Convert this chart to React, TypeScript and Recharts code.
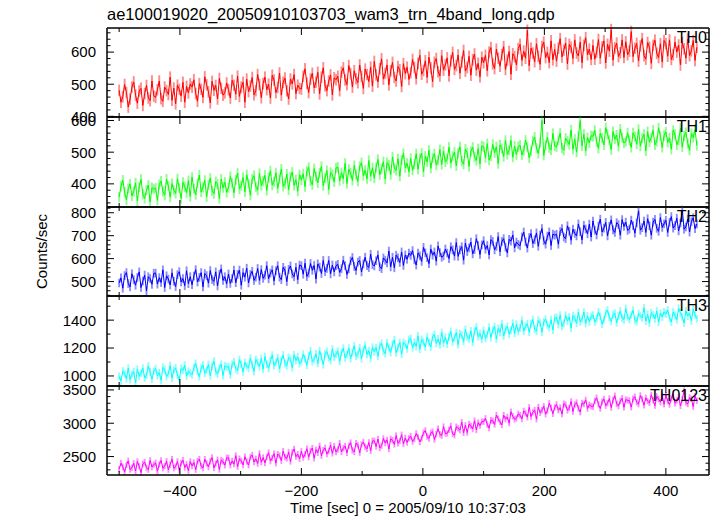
import React from 'react';
import { LineChart, Line, XAxis, YAxis, ErrorBar } from 'recharts';

// Light curve bins: 3 s each, starting at -500 s
const T_START = -500;
const T_STEP = 3;

// Counts/sec per band (rows of 60 s)
const TH0 = [
  481, 444, 461, 499, 474, 429, 454, 491, 507, 466, 441, 479, 487, 434, 471, 496, 457, 449, 510, 463,
  459, 483, 510, 455, 447, 491, 480, 468, 522, 450, 488, 439, 497, 484, 463, 506, 444, 493, 473, 501,
  491, 514, 471, 447, 502, 484, 459, 523, 498, 476, 442, 509, 481, 496, 454, 518, 487, 466, 473, 504,
  483, 457, 512, 497, 469, 525, 462, 491, 506, 444, 516, 477, 494, 521, 467, 480, 530, 499, 458, 502,
  522, 483, 500, 457, 528, 513, 474, 490, 535, 466, 506, 519, 480, 454, 516, 501, 530, 471, 497, 487,
  485, 525, 548, 503, 474, 516, 534, 489, 506, 537, 470, 522, 551, 495, 480, 510, 529, 467, 520, 514,
  525, 480, 538, 551, 513, 499, 558, 533, 491, 542, 517, 505, 560, 524, 487, 547, 530, 508, 553, 494,
  571, 529, 507, 548, 579, 516, 534, 560, 498, 542, 568, 521, 510, 555, 545, 493, 564, 533, 553, 515,
  536, 577, 552, 517, 565, 590, 531, 543, 573, 521, 584, 551, 508, 568, 580, 539, 526, 589, 544, 560,
  582, 526, 573, 599, 546, 558, 591, 534, 569, 605, 541, 552, 587, 528, 576, 594, 544, 565, 523, 584,
  567, 590, 542, 600, 614, 563, 549, 609, 581, 556, 592, 617, 546, 575, 602, 531, 595, 586, 560, 611,
  624, 574, 603, 581, 668, 558, 612, 597, 570, 626, 587, 562, 617, 631, 583, 599, 567, 635, 576, 608,
  572, 612, 642, 585, 606, 628, 563, 624, 615, 580, 638, 597, 588, 631, 567, 621, 645, 592, 609, 577,
  621, 578, 600, 639, 581, 616, 635, 566, 624, 603, 670, 575, 613, 628, 586, 598, 638, 583, 632, 592,
  603, 664, 586, 612, 627, 572, 619, 642, 589, 578, 630, 615, 565, 621, 637, 596, 583, 626, 569, 636,
  626, 587, 638, 577, 592, 631, 600, 622, 560, 629, 610, 581, 641, 589, 604, 636, 574, 615,
];

const TH1 = [
  358, 392, 412, 374, 349, 385, 400, 362, 376, 403, 346, 390, 414, 367, 354, 380, 396, 343, 388, 383,
  387, 348, 398, 409, 376, 364, 415, 393, 358, 401, 380, 370, 416, 386, 354, 405, 391, 372, 410, 360,
  421, 385, 366, 401, 428, 374, 389, 411, 359, 396, 418, 378, 369, 407, 399, 354, 415, 388, 405, 373,
  388, 423, 402, 372, 413, 434, 384, 394, 420, 375, 429, 401, 364, 415, 426, 391, 380, 433, 395, 409,
  427, 379, 419, 441, 396, 407, 435, 386, 416, 447, 392, 401, 431, 381, 422, 437, 395, 413, 377, 429,
  412, 432, 391, 440, 452, 409, 397, 448, 424, 403, 434, 455, 394, 419, 442, 382, 436, 429, 406, 450,
  453, 410, 435, 416, 465, 401, 446, 434, 411, 458, 429, 408, 455, 467, 426, 443, 416, 474, 424, 451,
  418, 452, 477, 429, 447, 470, 415, 467, 459, 429, 485, 450, 442, 479, 424, 475, 496, 451, 465, 438,
  480, 443, 462, 495, 446, 480, 497, 438, 487, 469, 506, 449, 482, 495, 459, 474, 508, 461, 503, 469,
  479, 516, 465, 487, 500, 457, 497, 517, 472, 462, 510, 498, 455, 503, 516, 485, 474, 511, 463, 520,
  517, 483, 527, 475, 488, 525, 498, 517, 464, 523, 511, 486, 537, 493, 506, 537, 484, 519, 492, 517,
  522, 491, 505, 538, 516, 482, 503, 535, 548, 513, 496, 529, 600, 490, 522, 547, 514, 507, 559, 519,
  517, 537, 560, 513, 506, 544, 535, 524, 570, 509, 541, 500, 549, 600, 520, 557, 504, 546, 529, 552,
  550, 569, 533, 512, 559, 544, 523, 577, 556, 537, 508, 565, 541, 554, 518, 573, 546, 529, 534, 561,
  537, 515, 561, 549, 525, 572, 519, 544, 556, 504, 565, 532, 546, 569, 523, 534, 577, 550, 515, 553,
  564, 531, 545, 509, 569, 556, 523, 537, 575, 516, 551, 562, 528, 506, 559, 546, 571, 521,
];

const TH2 = [
  494, 516, 471, 526, 539, 491, 477, 534, 508, 484, 518, 542, 474, 502, 528, 460, 521, 513, 488, 536,
  537, 489, 517, 496, 551, 474, 525, 511, 485, 538, 501, 478, 530, 543, 498, 513, 482, 547, 491, 521,
  486, 524, 552, 498, 518, 539, 477, 535, 526, 493, 548, 509, 501, 542, 481, 532, 555, 505, 521, 490,
  533, 492, 513, 550, 495, 531, 550, 484, 539, 519, 558, 494, 531, 545, 505, 519, 557, 505, 552, 514,
  528, 569, 512, 537, 551, 503, 547, 569, 519, 508, 562, 548, 500, 553, 568, 533, 521, 562, 508, 572,
  569, 532, 580, 522, 537, 579, 549, 570, 511, 577, 563, 535, 592, 543, 557, 592, 533, 572, 542, 569,
  575, 540, 556, 593, 569, 531, 555, 590, 605, 566, 548, 585, 592, 542, 577, 606, 569, 561, 619, 574,
  568, 591, 616, 564, 556, 603, 593, 581, 633, 564, 606, 560, 615, 603, 583, 629, 570, 616, 597, 624,
  614, 635, 595, 572, 624, 612, 588, 649, 625, 604, 578, 642, 615, 629, 589, 655, 626, 606, 612, 642,
  624, 600, 652, 638, 611, 670, 610, 638, 652, 593, 668, 631, 647, 672, 621, 639, 687, 657, 618, 660,
  678, 641, 657, 616, 683, 675, 638, 653, 696, 630, 675, 687, 650, 625, 684, 676, 703, 647, 672, 662,
  656, 694, 716, 673, 646, 692, 709, 666, 682, 712, 654, 703, 731, 678, 663, 698, 716, 657, 707, 702,
  706, 663, 718, 731, 694, 687, 743, 719, 680, 728, 710, 699, 751, 717, 682, 745, 729, 708, 750, 694,
  764, 724, 703, 742, 772, 716, 733, 758, 699, 741, 769, 725, 714, 757, 748, 702, 770, 740, 759, 723,
  729, 768, 744, 711, 756, 808, 724, 735, 764, 714, 774, 743, 702, 759, 771, 732, 719, 779, 736, 752,
  767, 714, 758, 783, 733, 744, 776, 721, 755, 812, 728, 738, 772, 716, 761, 778, 731, 751,
];

const TH3 = [
  997, 964, 1035, 1016, 979, 1056, 974, 1012, 1031, 951, 1048, 998, 1020, 1055, 985, 1006, 1071, 1030, 977, 1034,
  1053, 1002, 1024, 968, 1061, 1046, 995, 1016, 1075, 985, 1041, 1058, 1007, 973, 1054, 1040, 1077, 1000, 1034, 1021,
  1008, 1060, 1090, 1032, 994, 1055, 1078, 1020, 1042, 1082, 1001, 1069, 1106, 1033, 1014, 1059, 1084, 1003, 1072, 1064,
  1067, 1008, 1084, 1101, 1051, 1040, 1117, 1084, 1030, 1096, 1071, 1056, 1127, 1081, 1032, 1118, 1095, 1067, 1125, 1049,
  1139, 1084, 1055, 1109, 1149, 1074, 1097, 1131, 1051, 1108, 1150, 1088, 1074, 1133, 1120, 1059, 1151, 1111, 1137, 1088,
  1103, 1156, 1124, 1078, 1141, 1180, 1103, 1119, 1158, 1090, 1180, 1137, 1081, 1159, 1175, 1129, 1112, 1194, 1135, 1156,
  1177, 1104, 1165, 1199, 1130, 1155, 1198, 1124, 1169, 1216, 1141, 1155, 1201, 1124, 1186, 1219, 1154, 1181, 1126, 1206,
  1173, 1203, 1141, 1216, 1234, 1178, 1160, 1238, 1202, 1169, 1226, 1258, 1166, 1204, 1239, 1156, 1240, 1228, 1194, 1261,
  1268, 1203, 1240, 1212, 1287, 1192, 1262, 1243, 1207, 1280, 1240, 1207, 1279, 1297, 1234, 1265, 1224, 1312, 1235, 1277,
  1228, 1280, 1319, 1245, 1272, 1310, 1225, 1304, 1293, 1247, 1333, 1279, 1267, 1323, 1240, 1319, 1351, 1282, 1304, 1262,
  1326, 1270, 1298, 1349, 1274, 1329, 1354, 1264, 1340, 1312, 1373, 1286, 1335, 1355, 1300, 1326, 1378, 1306, 1370, 1318,
  1343, 1399, 1321, 1355, 1374, 1313, 1374, 1404, 1335, 1321, 1398, 1379, 1314, 1387, 1407, 1364, 1347, 1403, 1329, 1416,
  1420, 1369, 1436, 1356, 1376, 1434, 1394, 1423, 1342, 1432, 1415, 1377, 1455, 1388, 1407, 1457, 1376, 1430, 1388, 1426,
  1436, 1387, 1410, 1459, 1427, 1371, 1403, 1452, 1472, 1419, 1391, 1440, 1450, 1381, 1430, 1465, 1414, 1404, 1483, 1422,
  1405, 1436, 1471, 1399, 1389, 1446, 1432, 1416, 1487, 1393, 1442, 1379, 1454, 1437, 1410, 1466, 1385, 1449, 1423, 1459,
  1443, 1473, 1417, 1386, 1458, 1434, 1402, 1485, 1453, 1424, 1380, 1467, 1430, 1450, 1395, 1479, 1438, 1411,
];

const TH0123 = [
  2311, 2401, 2346, 2269, 2375, 2435, 2305, 2332, 2398, 2283, 2426, 2353, 2259, 2391, 2417, 2332, 2303, 2442, 2343, 2378,
  2404, 2281, 2384, 2441, 2325, 2356, 2429, 2303, 2380, 2460, 2325, 2349, 2426, 2296, 2402, 2446, 2336, 2383, 2290, 2424,
  2358, 2409, 2303, 2431, 2462, 2358, 2328, 2460, 2398, 2343, 2430, 2485, 2329, 2393, 2452, 2305, 2446, 2426, 2369, 2481,
  2481, 2371, 2435, 2386, 2514, 2349, 2467, 2434, 2375, 2498, 2426, 2371, 2492, 2523, 2418, 2466, 2395, 2545, 2415, 2486,
  2404, 2492, 2558, 2432, 2479, 2544, 2401, 2535, 2515, 2438, 2582, 2492, 2472, 2567, 2426, 2562, 2614, 2498, 2535, 2465,
  2578, 2484, 2532, 2618, 2490, 2585, 2627, 2475, 2603, 2557, 2660, 2513, 2597, 2630, 2537, 2582, 2670, 2549, 2656, 2568,
  2605, 2700, 2568, 2625, 2658, 2556, 2660, 2710, 2594, 2569, 2702, 2669, 2559, 2682, 2717, 2646, 2617, 2712, 2587, 2734,
  2737, 2651, 2763, 2629, 2662, 2771, 2702, 2751, 2614, 2766, 2746, 2683, 2815, 2700, 2733, 2827, 2690, 2780, 2710, 2774,
  2807, 2726, 2763, 2847, 2792, 2719, 2774, 2855, 2891, 2800, 2771, 2855, 2873, 2756, 2837, 2918, 2833, 2815, 2949, 2846,
  2847, 2900, 2960, 2839, 2821, 2947, 2923, 2896, 3015, 2857, 2968, 2860, 2988, 2959, 2913, 3037, 2900, 3008, 2964, 3026,
  3023, 3073, 2979, 2926, 3047, 3037, 2982, 3123, 3068, 3020, 2975, 3122, 3061, 3094, 3001, 3172, 3104, 3058, 3073, 3141,
  3121, 3064, 3185, 3152, 3090, 3239, 3101, 3165, 3198, 3061, 3244, 3158, 3195, 3255, 3136, 3190, 3300, 3232, 3142, 3239,
  3281, 3195, 3233, 3138, 3294, 3278, 3193, 3228, 3327, 3175, 3281, 3310, 3224, 3167, 3303, 3287, 3351, 3221, 3278, 3256,
  3245, 3333, 3383, 3284, 3220, 3324, 3363, 3264, 3302, 3370, 3235, 3349, 3413, 3290, 3257, 3334, 3375, 3239, 3356, 3342,
  3340, 3241, 3368, 3397, 3313, 3287, 3417, 3362, 3270, 3382, 3331, 3305, 3426, 3346, 3265, 3402, 3365, 3316, 3415, 3285,
  3422, 3330, 3281, 3371, 3440, 3301, 3341, 3398, 3261, 3358, 3490, 3312, 3288, 3387, 3365, 3250, 3407, 3338,
];

// tick labels
const X_LABELS = [-400, -200, 0, 200, 400];
const TH0_LABELS = [400, 500, 600];
const TH1_LABELS = [400, 500, 600];
const TH2_LABELS = [500, 600, 700, 800];
const TH3_LABELS = [1000, 1200, 1400];
const TH0123_LABELS = [2500, 3000, 3500];

// layout
const W = 717;
const H = 516;
const PLOT_LEFT = 107;
const PLOT_RIGHT = 709;
const PANEL_TOPS = [28, 117, 207, 296, 386];
const PANEL_BOTTOM = 475;
const PAD = 12;
const AXIS = '#000';
const FONT = '"Liberation Sans", Arial, Helvetica, sans-serif';

const range = (lo: number, hi: number, step: number) => {
  const out: number[] = [];
  for (let v = lo; v <= hi + 1e-9; v += step) out.push(v);
  return out;
};

const X_DOMAIN: [number, number] = [-520, 471];
const X_TICKS = range(-500, 400, 100);

// color = data line, tint = error bars behind it
const PANELS = [
  { name: 'TH0', values: TH0, err: 18, color: '#ff0000', tint: '#ff8c8c', domain: [398, 675], labels: TH0_LABELS, minor: 20 },
  { name: 'TH1', values: TH1, err: 16, color: '#00ff00', tint: '#8cff8c', domain: [327, 611], labels: TH1_LABELS, minor: 20 },
  { name: 'TH2', values: TH2, err: 19, color: '#0000ff', tint: '#8c8cff', domain: [437, 825], labels: TH2_LABELS, minor: 20 },
  { name: 'TH3', values: TH3, err: 28, color: '#00ffff', tint: '#8cffff', domain: [928, 1573], labels: TH3_LABELS, minor: 100 },
  { name: 'TH0123', values: TH0123, err: 48, color: '#ff00ff', tint: '#ff8cff', domain: [2223, 3559], labels: TH0123_LABELS, minor: 100 },
];

const fmt = (v: number) => (v < 0 ? `\u2212${-v}` : `${v}`);

function LeftTick(props: any) {
  const { x, y, payload, labels } = props;
  const major = labels.includes(payload.value);
  return (
    <g>
      <line x1={x} x2={x + (major ? 7 : 3.5)} y1={y} y2={y} stroke={AXIS} strokeWidth={1} />
      {major && (
        <text x={x - 11} y={y} dy="0.36em" textAnchor="end" fontSize={15} fontFamily={FONT} fill="#000">
          {payload.value}
        </text>
      )}
    </g>
  );
}

function RightTick(props: any) {
  const { x, y, payload, labels } = props;
  const major = labels.includes(payload.value);
  return <line x1={x} x2={x - (major ? 7 : 3.5)} y1={y} y2={y} stroke={AXIS} strokeWidth={1} />;
}

function BottomTick(props: any) {
  const { x, y, payload, showLabel } = props;
  const major = X_LABELS.includes(payload.value);
  return (
    <g>
      <line x1={x} x2={x} y1={y} y2={y - (major ? 7 : 4)} stroke={AXIS} strokeWidth={1} />
      {showLabel && major && (
        <text x={x} y={y + 16} dy="0.36em" textAnchor="middle" fontSize={15} fontFamily={FONT} fill="#000">
          {fmt(payload.value)}
        </text>
      )}
    </g>
  );
}

function TopTick(props: any) {
  const { x, y, payload } = props;
  const major = X_LABELS.includes(payload.value);
  return <line x1={x} x2={x} y1={y} y2={y + (major ? 7 : 4)} stroke={AXIS} strokeWidth={1} />;
}

function Panel({ index }: { index: number }) {
  const p = PANELS[index];
  const top = PANEL_TOPS[index];
  const bottom = index < PANEL_TOPS.length - 1 ? PANEL_TOPS[index + 1] : PANEL_BOTTOM;
  const h = bottom - top;
  const last = index === PANELS.length - 1;
  const bottomH = last ? 40 : PAD;
  const data = p.values.map((v, i) => ({ t: T_START + i * T_STEP, v, e: p.err }));
  const yTicks = range(Math.ceil(p.domain[0] / p.minor) * p.minor, p.domain[1], p.minor);

  return (
    <div style={{ position: 'absolute', left: 0, top: top - PAD }}>
      <LineChart
        width={W}
        height={h + PAD + bottomH}
        data={data}
        margin={{ top: 0, right: 0, bottom: 0, left: PLOT_LEFT - 30 }}
      >
        <XAxis
          dataKey="t"
          type="number"
          domain={X_DOMAIN}
          ticks={X_TICKS}
          interval={0}
          allowDataOverflow
          height={bottomH}
          tickSize={0}
          tickMargin={0}
          tickLine={false}
          axisLine={{ stroke: AXIS, strokeWidth: 1.5 }}
          tick={(tp: any) => <BottomTick {...tp} showLabel={last} />}
        />
        <XAxis
          xAxisId="top"
          orientation="top"
          dataKey="t"
          type="number"
          domain={X_DOMAIN}
          ticks={X_TICKS}
          interval={0}
          allowDataOverflow
          height={PAD}
          tickSize={0}
          tickMargin={0}
          tickLine={false}
          axisLine={{ stroke: AXIS, strokeWidth: 1.5 }}
          tick={(tp: any) => <TopTick {...tp} />}
        />
        <YAxis
          type="number"
          domain={p.domain}
          ticks={yTicks}
          interval={0}
          allowDataOverflow
          width={30}
          tickSize={0}
          tickMargin={0}
          tickLine={false}
          axisLine={{ stroke: AXIS, strokeWidth: 1.5 }}
          tick={(tp: any) => <LeftTick {...tp} labels={p.labels} />}
        />
        <YAxis
          yAxisId="r"
          orientation="right"
          type="number"
          domain={p.domain}
          ticks={yTicks}
          interval={0}
          allowDataOverflow
          width={W - PLOT_RIGHT}
          tickSize={0}
          tickMargin={0}
          tickLine={false}
          axisLine={{ stroke: AXIS, strokeWidth: 1.5 }}
          tick={(tp: any) => <RightTick {...tp} labels={p.labels} />}
        />
        {/* error bars first, so the data line sits on top */}
        <Line
          dataKey="v"
          stroke="none"
          dot={false}
          activeDot={false}
          isAnimationActive={false}
        >
          <ErrorBar
            dataKey="e"
            width={0}
            stroke={p.tint}
            strokeWidth={1.9}
            direction="y"
            isAnimationActive={false}
          />
        </Line>
        <Line
          dataKey="v"
          stroke={p.color}
          strokeWidth={1}
          dot={false}
          activeDot={false}
          isAnimationActive={false}
        />
      </LineChart>
      <div
        style={{
          position: 'absolute',
          right: W - 707,
          top: PAD + 1,
          fontFamily: FONT,
          fontSize: 16,
          lineHeight: '18px',
          color: '#000',
        }}
      >
        {p.name}
      </div>
    </div>
  );
}

export default function App() {
  return (
    <div style={{ position: 'absolute', left: 0, top: 0, width: W, height: H, background: '#fff' }}>
      {PANELS.map((_, i) => (
        <Panel key={i} index={i} />
      ))}
      <svg width={W} height={H} style={{ position: 'absolute', left: 0, top: 0, pointerEvents: 'none' }}>
        <text x={PLOT_LEFT} y={20} fontSize={16.5} fontFamily={FONT} fill="#000">
          ae100019020_20050910103703_wam3_trn_4band_long.qdp
        </text>
        <text
          x={0}
          y={0}
          transform={`translate(47, ${(PANEL_TOPS[0] + PANEL_BOTTOM) / 2}) rotate(-90)`}
          textAnchor="middle"
          fontSize={15}
          fontFamily={FONT}
          fill="#000"
        >
          Counts/sec
        </text>
        <text x={408} y={513} textAnchor="middle" fontSize={15} fontFamily={FONT} fill="#000">
          Time [sec] 0 = 2005/09/10 10:37:03
        </text>
      </svg>
    </div>
  );
}
